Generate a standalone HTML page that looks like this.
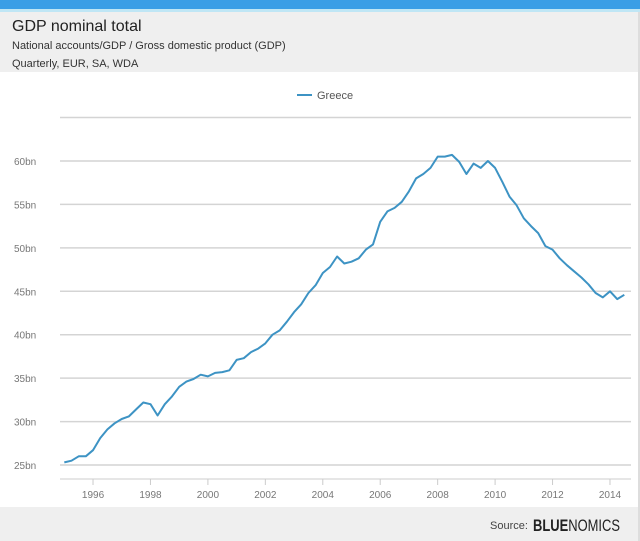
<!DOCTYPE html>
<html><head><meta charset="utf-8"><style>
body{margin:0;width:640px;height:541px;overflow:hidden;background:#fff;font-family:"Liberation Sans",Arial,sans-serif}
svg{display:block}
</style></head><body>
<svg width="640" height="541" viewBox="0 0 640 541">
<rect x="0" y="0" width="640" height="9" fill="#3a9ee6"/>
<rect x="0" y="9" width="640" height="3" fill="#bfe6f5"/>
<rect x="0" y="12" width="640" height="60" fill="#efefef"/>
<text x="12" y="31" font-size="16" fill="#222">GDP nominal total</text>
<text x="12" y="49" font-size="11" fill="#333">National accounts/GDP / Gross domestic product (GDP)</text>
<text x="12" y="67" font-size="11" fill="#333">Quarterly, EUR, SA, WDA</text>
<g>
<line x1="297" y1="95" x2="312" y2="95" stroke="#3d93c4" stroke-width="2"/>
<text x="317" y="99" font-size="11" fill="#555">Greece</text>
</g>
<g id="grid"></g><g id="xaxis"></g>
<path id="series" fill="none" stroke="#3d93c4" stroke-width="2" stroke-linejoin="round"/>
<rect x="0" y="507" width="640" height="34" fill="#efefef"/>
<text x="490" y="529" font-size="11" fill="#444">Source:</text>
<text x="533" y="531" font-size="17" fill="#222" textLength="87" lengthAdjust="spacingAndGlyphs"><tspan font-weight="bold">BLUE</tspan>NOMICS</text>
<rect x="638" y="12" width="2" height="529" fill="#ddd"/>
</svg>
<script>
const yTicks=[25,30,35,40,45,50,55,60,65];
const yTickLabels=["25bn","30bn","35bn","40bn","45bn","50bn","55bn","60bn",""];
const xTicks=[1996,1998,2000,2002,2004,2006,2008,2010,2012,2014];
const startYear=1995;
const gdpValues=[25.3,25.5,26.0,26.0,26.7,28.1,29.1,29.8,30.3,30.6,31.4,32.2,32.0,30.7,32.0,32.9,
34.0,34.6,34.9,35.4,35.2,35.6,35.7,35.9,37.1,37.3,38.0,38.4,39.0,40.0,40.5,41.5,
42.6,43.5,44.8,45.7,47.1,47.8,49.0,48.2,48.4,48.8,49.8,50.4,53.0,54.2,54.6,55.3,
56.5,58.0,58.5,59.2,60.5,60.5,60.7,59.9,58.5,59.7,59.2,60.0,59.2,57.6,55.9,54.9,
53.4,52.5,51.7,50.2,49.8,48.8,48.0,47.3,46.6,45.8,44.8,44.3,45.0,44.1,44.6];
const NS="http://www.w3.org/2000/svg";
function xs(t){return 64.3+(t-1995)*28.72;}
function ys(v){return 465-(v-25)*8.686;}
const grid=document.getElementById('grid');
yTicks.forEach((v,i)=>{
 const l=document.createElementNS(NS,'line');
 l.setAttribute('x1',60);l.setAttribute('x2',631);l.setAttribute('y1',ys(v));l.setAttribute('y2',ys(v));
 l.setAttribute('stroke','#d4d4d4');l.setAttribute('stroke-width','1.5');
 
 
 grid.appendChild(l);
 if(yTickLabels[i]){
 const t=document.createElementNS(NS,'text');
 t.setAttribute('x',14);t.setAttribute('y',ys(v)+4);t.setAttribute('font-size','10');t.setAttribute('fill','#777');
 t.textContent=yTickLabels[i];
 
 
 grid.appendChild(t);}
});
const xa=document.getElementById('xaxis');
const ax=document.createElementNS(NS,'line');
ax.setAttribute('x1',60);ax.setAttribute('x2',631);ax.setAttribute('y1',479);ax.setAttribute('y2',479);ax.setAttribute('stroke','#ddd');ax.setAttribute('stroke-width','1.5');


xa.appendChild(ax);
xTicks.forEach(y=>{
 const tk=document.createElementNS(NS,'line');
 tk.setAttribute('x1',xs(y));tk.setAttribute('x2',xs(y));tk.setAttribute('y1',479);tk.setAttribute('y2',485);tk.setAttribute('stroke','#ccc');
 
 
 xa.appendChild(tk);
 const t=document.createElementNS(NS,'text');
 t.setAttribute('x',xs(y));t.setAttribute('y',498);t.setAttribute('font-size','10');t.setAttribute('fill','#777');t.setAttribute('text-anchor','middle');
 t.textContent=y;
 
 
 xa.appendChild(t);
});
document.getElementById('series').setAttribute('d',gdpValues.map((v,i)=>(i?'L':'M')+xs(startYear+i/4).toFixed(1)+' '+ys(v).toFixed(1)).join(' '));
</script>
</body></html>
